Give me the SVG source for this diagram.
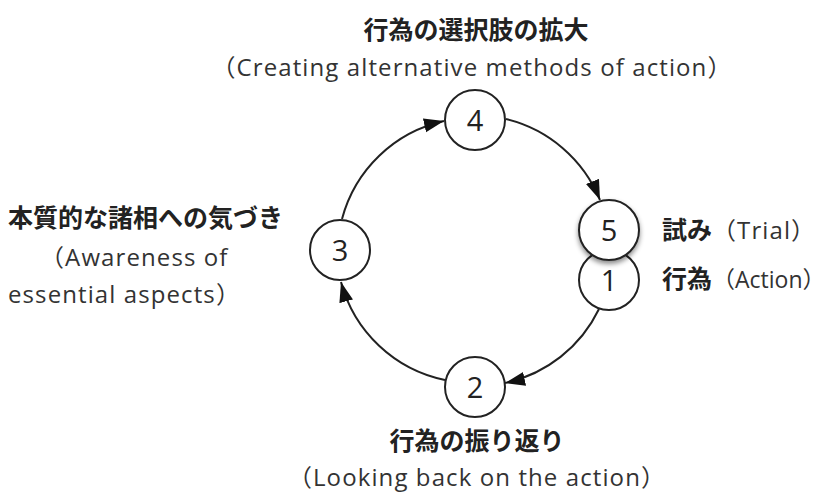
<svg xmlns="http://www.w3.org/2000/svg" width="827" height="493" viewBox="0 0 827 493">
<style>
.node circle{fill:#fff;stroke:#222;stroke-width:2}
.num{font-family:"Open Sans","DejaVu Sans",sans-serif;font-size:29px;fill:#222;text-anchor:middle}
.jp{font-family:"Noto Sans CJK JP",sans-serif;font-weight:bold;font-size:25px;fill:#222}
.en{font-family:"Open Sans","DejaVu Sans","Noto Sans CJK JP",sans-serif;font-size:24px;letter-spacing:1.1px;fill:#333}
.conn path{fill:none;stroke:#222;stroke-width:2}
</style>
<defs>
<marker id="ah" markerUnits="userSpaceOnUse" markerWidth="22" markerHeight="16" refX="20" refY="8" orient="auto">
<path d="M0,1 L20,8 L0,15 Z" fill="#111"/>
</marker>
<filter id="sh" x="-30%" y="-30%" width="160%" height="170%">
<feDropShadow dx="0" dy="3" stdDeviation="2.5" flood-color="#000" flood-opacity="0.45"/>
</filter>
</defs>
<g class="conn">
<path d="M342,219 A136 136 0 0 1 444,121" marker-end="url(#ah)"/>
<path d="M506,119 A136 136 0 0 1 600,200" marker-end="url(#ah)"/>
<path d="M599,309 A136 136 0 0 1 505,383" marker-end="url(#ah)"/>
<path d="M445,380 A136 136 0 0 1 341,282" marker-end="url(#ah)"/>
</g>
<g id="n4" class="node"><circle cx="475" cy="120" r="30"/><text class="num" x="475" y="131">4</text></g>
<g id="n3" class="node"><circle cx="340" cy="250" r="30"/><text class="num" x="340" y="261">3</text></g>
<g id="n2" class="node"><circle cx="475" cy="387" r="30"/><text class="num" x="475" y="398">2</text></g>
<g id="n1" class="node"><circle cx="609" cy="280" r="30"/><text class="num" x="609" y="291">1</text></g>
<g id="n5" class="node"><circle cx="609" cy="230" r="30" filter="url(#sh)"/><text class="num" x="609" y="241">5</text></g>
<g id="t4">
<text class="jp" x="476" y="39" text-anchor="middle">行為の選択肢の拡大</text>
<text class="en" x="472" y="76" text-anchor="middle">（Creating alternative methods of action）</text>
</g>
<g id="t3">
<text class="jp" x="8" y="227">本質的な諸相への気づき</text>
<text class="en" x="40" y="266">（Awareness of</text>
<text class="en" x="8" y="303">essential aspects）</text>
</g>
<g id="t5"><text x="662" y="239"><tspan class="jp">試み</tspan><tspan class="en">（Trial）</tspan></text></g>
<g id="t1"><text x="662" y="288"><tspan class="jp">行為</tspan><tspan class="en" style="letter-spacing:0px;font-size:23px">（Action）</tspan></text></g>
<g id="t2">
<text class="jp" x="477" y="450" text-anchor="middle">行為の振り返り</text>
<text class="en" x="477" y="486" text-anchor="middle">（Looking back on the action）</text>
</g>
</svg>
